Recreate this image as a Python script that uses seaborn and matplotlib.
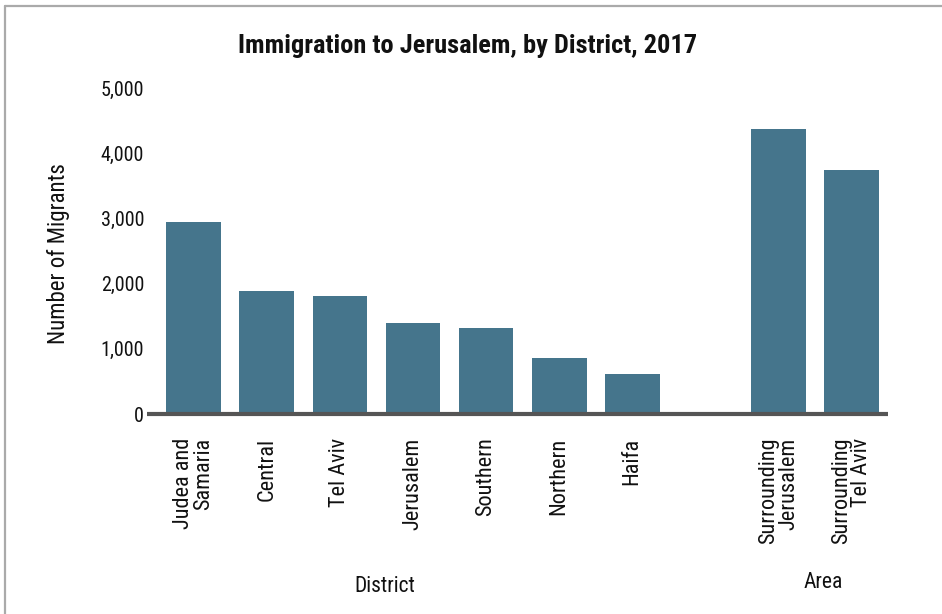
import matplotlib
matplotlib.use("Agg")
import matplotlib.pyplot as plt
from matplotlib.lines import Line2D
from matplotlib import font_manager
import seaborn as sns
import pandas as pd

# District / area figures for 2017
districts = ["Judea and\nSamaria", "Central", "Tel Aviv", "Jerusalem",
             "Southern", "Northern", "Haifa"]
district_migrants = [2950, 1890, 1810, 1400, 1320, 860, 620]

areas = ["Surrounding\nJerusalem", "Surrounding\nTel Aviv"]
area_migrants = [4370, 3740]

y_ticks = [0, 1000, 2000, 3000, 4000, 5000]
y_tick_labels = ["0", "1,000", "2,000", "3,000", "4,000", "5,000"]

# Blank slot separating the two groups
spacer = " "
order = districts + [spacer] + areas

df = pd.DataFrame({
    "place": districts + areas,
    "migrants": district_migrants + area_migrants,
})

sns.set_theme(style="white")
available = {f.name for f in font_manager.fontManager.ttflist}
preferred = ["Liberation Sans Narrow", "Roboto Condensed", "Arial Narrow",
             "Liberation Sans", "DejaVu Sans"]
plt.rcParams["font.family"] = [f for f in preferred if f in available] or ["DejaVu Sans"]

W, H = 942, 614
fig = plt.figure(figsize=(W / 100, H / 100), dpi=100)
fig.patch.set_facecolor("white")

ax_left, ax_right = 147, 888
ax_top, ax_bottom = 88, 414
ax = fig.add_axes([ax_left / W, 1 - ax_bottom / H,
                   (ax_right - ax_left) / W, (ax_bottom - ax_top) / H])

sns.barplot(data=df, x="place", y="migrants", order=order,
            color="#45758c", saturation=1, width=0.75, linewidth=0, ax=ax)

ax.set_xlim(-0.64, len(order) - 0.5)
ax.set_ylim(0, 5000)
ax.set_yticks(y_ticks)
ax.set_yticklabels(y_tick_labels, fontsize=14.5, color="#111111")
ax.tick_params(axis="y", length=0, pad=2)

ax.set_xticks(range(len(order)))
ax.set_xticklabels(order, rotation=90, fontsize=16, color="#111111",
                   va="top", ha="center", multialignment="right",
                   linespacing=0.95)
ax.tick_params(axis="x", length=0, pad=17)

ax.set_xlabel("")
ax.set_ylabel("")
for side in ["top", "right", "left"]:
    ax.spines[side].set_visible(False)
ax.spines["bottom"].set_color("#555555")
ax.spines["bottom"].set_linewidth(3)
ax.spines["bottom"].set_capstyle("butt")

fig.text(468 / W, 1 - 46 / H, "Immigration to Jerusalem, by District, 2017",
         ha="center", va="center", fontsize=19, fontweight="bold",
         color="#111111")
fig.text(58 / W, 1 - 254 / H, "Number of Migrants", rotation=90,
         ha="center", va="center", fontsize=16.5, color="#111111")
fig.text(385 / W, 1 - 587 / H, "District", ha="center", va="center",
         fontsize=15.5, color="#111111")
fig.text(823 / W, 1 - 583 / H, "Area", ha="center", va="center",
         fontsize=15.5, color="#111111")

# Frame edges along the top and left of the canvas
fig.add_artist(Line2D([5 / W, 1], [1 - 6 / H, 1 - 6 / H],
                      color="#aaaaaa", linewidth=1.6,
                      transform=fig.transFigure))
fig.add_artist(Line2D([5 / W, 5 / W], [0, 1 - 6 / H],
                      color="#aaaaaa", linewidth=1.6,
                      transform=fig.transFigure))

fig.savefig("out.png", dpi=100, facecolor="white")
